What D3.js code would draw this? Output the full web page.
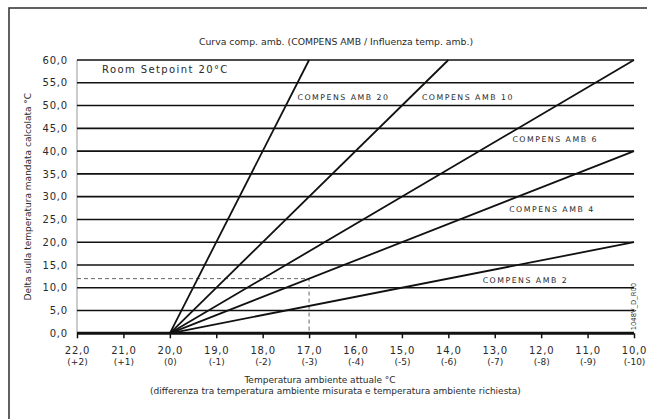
<!DOCTYPE html>
<html>
<head>
<meta charset="utf-8">
<script src="https://cdn.jsdelivr.net/npm/d3@7"></script>
<style>
  html, body { margin: 0; padding: 0; background: #fff; }
  svg { display: block; }
  text { font-family: "DejaVu Sans", sans-serif; fill: #2a2a2a; }
</style>
</head>
<body>
<svg id="chart" width="647" height="419"></svg>
<script>
// Room temperature (°C) along the x axis and the offset from the setpoint
const tempTicks = [22, 21, 20, 19, 18, 17, 16, 15, 14, 13, 12, 11, 10];
const diffLabels = ["(+2)", "(+1)", "(0)", "(-1)", "(-2)", "(-3)", "(-4)", "(-5)", "(-6)", "(-7)", "(-8)", "(-9)", "(-10)"];
// Delta on the calculated flow temperature
const deltaTicks = [0, 5, 10, 15, 20, 25, 30, 35, 40, 45, 50, 55, 60];

// COMPENS AMB curves: all start at the setpoint (20 °C, delta 0)
const setpoint = 20;
const curveNames = ["COMPENS AMB 20", "COMPENS AMB 10", "COMPENS AMB 6", "COMPENS AMB 4", "COMPENS AMB 2"];
const curveEndTemp = [17, 14, 10, 10, 10];
const curveEndDelta = [60, 60, 60, 40, 20];
// where each curve name sits, in chart units (temperature, delta)
const curveLabelTemp = [17.25, 14.57, 12.62, 12.69, 13.26];
const curveLabelDelta = [51.3, 51.3, 42.06, 26.7, 11.15];

// worked example: 17 °C room -> 12 K on COMPENS AMB 4
const exampleTemp = 17;
const exampleDelta = 12;

const W = 647, H = 419;
const margin = { top: 60, right: 13, bottom: 85.7, left: 77 };

const svg = d3.select("#chart");

// outer frame
svg.append("rect")
  .attr("x", 9).attr("y", 8).attr("width", 700).attr("height", 500)
  .attr("fill", "none").attr("stroke", "#3a3a3a").attr("stroke-width", 1.6);

const x = d3.scaleLinear().domain([22, 10]).range([margin.left, W - margin.right]);
const y = d3.scaleLinear().domain([0, 60]).range([H - margin.bottom, margin.top]);

// left edge of plot
svg.append("line")
  .attr("x1", x(22)).attr("x2", x(22))
  .attr("y1", y(60)).attr("y2", y(0))
  .attr("stroke", "#999").attr("stroke-width", 1);

// horizontal grid
svg.append("g")
  .selectAll("line")
  .data(deltaTicks.filter(d => d > 0))
  .join("line")
  .attr("x1", x(22)).attr("x2", x(10))
  .attr("y1", d => y(d)).attr("y2", d => y(d))
  .attr("stroke", "#111").attr("stroke-width", 1.6);

// y axis labels
const yAxis = d3.axisLeft(y).tickValues(deltaTicks)
  .tickFormat(d => d3.format(".1f")(d).replace(".", ","))
  .tickSize(0).tickPadding(9);
svg.append("g")
  .attr("transform", `translate(${x(22)},0)`)
  .call(yAxis)
  .call(g => g.select(".domain").remove())
  .call(g => g.selectAll("text")
    .attr("font-size", 10).attr("letter-spacing", 0.8)
    .attr("font-family", "DejaVu Sans").attr("fill", "#333"));

// x axis with two-line labels
const xAxis = d3.axisBottom(x).tickValues(tempTicks).tickSize(5).tickFormat("");
const gx = svg.append("g")
  .attr("transform", `translate(0,${y(0)})`)
  .call(xAxis);
gx.select(".domain").remove();
gx.selectAll(".tick line").attr("stroke", "#111").attr("stroke-width", 1.5);
gx.selectAll(".tick").each(function(d, i) {
  const t = d3.select(this);
  t.append("text")
    .attr("y", 21).attr("text-anchor", "middle")
    .attr("font-size", 10).attr("letter-spacing", 0.8)
    .attr("fill", "#333")
    .text(d3.format(".1f")(d).replace(".", ","));
  t.append("text")
    .attr("y", 31.5).attr("text-anchor", "middle")
    .attr("font-size", 9)
    .attr("fill", "#333")
    .text(diffLabels[i]);
});

// baseline
svg.append("line")
  .attr("x1", x(22)).attr("x2", x(10))
  .attr("y1", y(0)).attr("y2", y(0))
  .attr("stroke", "#111").attr("stroke-width", 3);

// dashed example guides
const dash = svg.append("g")
  .attr("stroke", "#666").attr("stroke-width", 1).attr("stroke-dasharray", "4,3").attr("fill", "none");
dash.append("path")
  .attr("d", d3.line().x(d => x(d[0])).y(d => y(d[1]))([[22, exampleDelta], [exampleTemp, exampleDelta], [exampleTemp, 0]]));

// compensation curves
const line = d3.line().x(d => x(d[0])).y(d => y(d[1]));
svg.append("g")
  .selectAll("path")
  .data(curveNames.map((n, i) => [[setpoint, 0], [curveEndTemp[i], curveEndDelta[i]]]))
  .join("path")
  .attr("d", line)
  .attr("fill", "none").attr("stroke", "#111").attr("stroke-width", 1.8);

// curve names
svg.append("g")
  .selectAll("text")
  .data(curveNames)
  .join("text")
  .attr("x", (d, i) => x(curveLabelTemp[i]))
  .attr("y", (d, i) => y(curveLabelDelta[i]))
  .attr("font-size", 7.8).attr("letter-spacing", 1.5)
  .attr("fill", "#333")
  .text(d => d);

// setpoint note
svg.append("text")
  .attr("x", x(21.46)).attr("y", y(57.04))
  .attr("font-size", 10).attr("letter-spacing", 1.4)
  .text("Room Setpoint 20°C");

// title
svg.append("text")
  .attr("x", 336).attr("y", 44.5).attr("text-anchor", "middle")
  .attr("font-family", "DejaVu Sans Condensed").attr("font-size", 9.3)
  .text("Curva comp. amb. (COMPENS AMB / Influenza temp. amb.)");

// x axis title
svg.append("text")
  .attr("x", 320).attr("y", 383).attr("text-anchor", "middle")
  .attr("font-family", "DejaVu Sans Condensed").attr("font-size", 9)
  .text("Temperatura ambiente attuale °C");
svg.append("text")
  .attr("x", 335.5).attr("y", 393.5).attr("text-anchor", "middle")
  .attr("font-family", "DejaVu Sans Condensed").attr("font-size", 9)
  .text("(differenza tra temperatura ambiente misurata e temperatura ambiente richiesta)");

// y axis title
svg.append("text")
  .attr("transform", `translate(31,${(y(0) + y(60)) / 2}) rotate(-90)`)
  .attr("text-anchor", "middle")
  .attr("font-family", "DejaVu Sans Condensed").attr("font-size", 9)
  .text("Delta sulla temperatura mandata calcolata °C");

// drawing code
svg.append("text")
  .attr("transform", `translate(635.5,${y(0) - 3}) rotate(-90)`)
  .attr("font-family", "DejaVu Sans Condensed").attr("font-size", 6.8)
  .attr("fill", "#444")
  .text("1048V_D_R00");
</script>
</body>
</html>
